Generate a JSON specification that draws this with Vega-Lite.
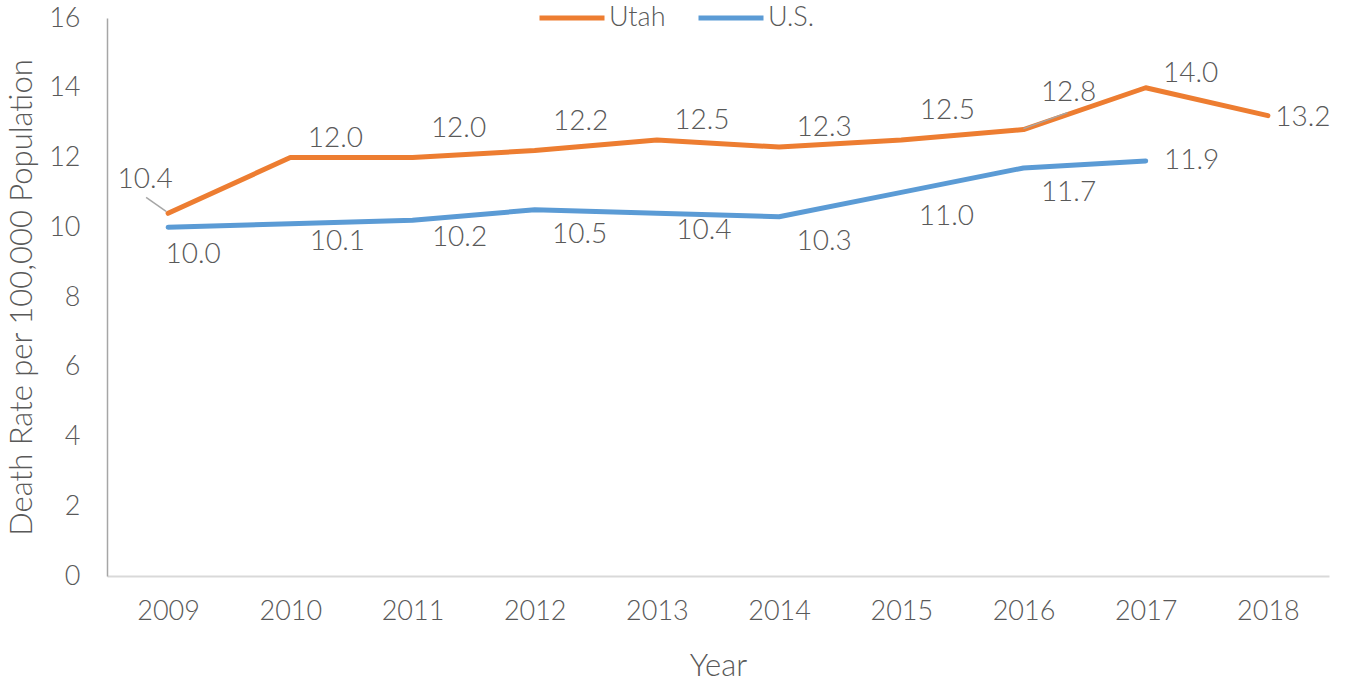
{
  "$schema": "https://vega.github.io/schema/vega-lite/v6.json",
  "autosize": "none",
  "width": 1222,
  "height": 558,
  "padding": {"left": 107, "top": 18, "right": 19, "bottom": 105},
  "background": "white",
  "config": {
    "view": {"stroke": null},
    "font": "Lato",
    "text": {"font": "Lato", "fontWeight": 300, "fontSize": 28, "color": "#595959"},
    "axis": {"labelFont": "Lato", "titleFont": "Lato", "labelFontWeight": 300, "titleFontWeight": 300, "labelColor": "#595959", "titleColor": "#595959", "grid": false, "ticks": false, "tickSize": 0},
    "legend": {"labelFont": "Lato", "labelFontWeight": 300, "labelColor": "#595959"}
  },
  "data": {
    "values": [
      {"year": "2009", "series": "Utah", "rate": 10.4},
      {"year": "2010", "series": "Utah", "rate": 12.0},
      {"year": "2011", "series": "Utah", "rate": 12.0},
      {"year": "2012", "series": "Utah", "rate": 12.2},
      {"year": "2013", "series": "Utah", "rate": 12.5},
      {"year": "2014", "series": "Utah", "rate": 12.3},
      {"year": "2015", "series": "Utah", "rate": 12.5},
      {"year": "2016", "series": "Utah", "rate": 12.8},
      {"year": "2017", "series": "Utah", "rate": 14.0},
      {"year": "2018", "series": "Utah", "rate": 13.2},
      {"year": "2009", "series": "U.S.", "rate": 10.0},
      {"year": "2010", "series": "U.S.", "rate": 10.1},
      {"year": "2011", "series": "U.S.", "rate": 10.2},
      {"year": "2012", "series": "U.S.", "rate": 10.5},
      {"year": "2013", "series": "U.S.", "rate": 10.4},
      {"year": "2014", "series": "U.S.", "rate": 10.3},
      {"year": "2015", "series": "U.S.", "rate": 11.0},
      {"year": "2016", "series": "U.S.", "rate": 11.7},
      {"year": "2017", "series": "U.S.", "rate": 11.9}
    ]
  },
  "encoding": {
    "x": {
      "field": "year", "type": "ordinal",
      "scale": {"type": "point", "padding": 0.5},
      "axis": {"title": "Year", "labelAngle": 0, "labelFontSize": 27, "titleFontSize": 31, "labelPadding": 22, "titlePadding": 27, "domainColor": "#d9d9d9", "domainWidth": 2}
    },
    "y": {
      "field": "rate", "type": "quantitative",
      "scale": {"domain": [0, 16], "nice": false},
      "axis": {"title": "Death Rate per 100,000 Population", "values": [0, 2, 4, 6, 8, 10, 12, 14, 16], "labelFontSize": 27, "titleFontSize": 31, "labelPadding": 27, "titlePadding": 10, "domainColor": "#a6a6a6", "domainWidth": 1.5}
    }
  },
  "layer": [
    {
      "mark": {"type": "line", "strokeWidth": 5, "strokeCap": "round", "strokeJoin": "round"},
      "encoding": {
        "color": {
          "field": "series", "type": "nominal",
          "scale": {"domain": ["Utah", "U.S."], "range": ["#ED7D31", "#5B9BD5"]},
          "legend": {"title": null, "orient": "none", "legendX": 430, "legendY": -35, "direction": "horizontal", "symbolType": "stroke", "symbolSize": 4225, "symbolStrokeWidth": 5, "labelFontSize": 27, "labelOffset": 2, "columnPadding": 22}
        }
      }
    },
    {
      "transform": [{"filter": "datum.series == 'Utah' && datum.year == '2009'"}],
      "mark": {"type": "rule", "color": "#a6a6a6", "strokeWidth": 1.5, "xOffset": -22, "yOffset": -16, "x2Offset": -2, "y2Offset": -2},
      "encoding": {"x2": {"field": "year"}, "y2": {"field": "rate"}}
    },
    {
      "transform": [{"filter": "datum.series == 'Utah' && datum.year == '2016'"}],
      "mark": {"type": "rule", "color": "#a6a6a6", "strokeWidth": 1.5, "xOffset": 0, "yOffset": -1, "x2Offset": 44, "y2Offset": -17},
      "encoding": {"x2": {"field": "year"}, "y2": {"field": "rate"}}
    },
    {
      "transform": [{"filter": "datum.series == 'Utah' && indexof(['2010','2013','2014'], datum.year) >= 0"}],
      "mark": {"type": "text", "dx": 45, "dy": -19},
      "encoding": {"text": {"field": "rate", "format": ".1f"}}
    },
    {
      "transform": [{"filter": "datum.series == 'Utah' && indexof(['2011','2012','2015'], datum.year) >= 0"}],
      "mark": {"type": "text", "dx": 46, "dy": -29},
      "encoding": {"text": {"field": "rate", "format": ".1f"}}
    },
    {
      "transform": [{"filter": "datum.series == 'Utah' && datum.year == '2017'"}],
      "mark": {"type": "text", "dx": 45, "dy": -14},
      "encoding": {"text": {"field": "rate", "format": ".1f"}}
    },
    {
      "transform": [{"filter": "datum.series == 'Utah' && datum.year == '2009'"}],
      "mark": {"type": "text", "dx": -23, "dy": -33},
      "encoding": {"text": {"field": "rate", "format": ".1f"}}
    },
    {
      "transform": [{"filter": "datum.series == 'Utah' && datum.year == '2016'"}],
      "mark": {"type": "text", "dx": 45, "dy": -37},
      "encoding": {"text": {"field": "rate", "format": ".1f"}}
    },
    {
      "transform": [{"filter": "datum.series == 'Utah' && datum.year == '2018'"}],
      "mark": {"type": "text", "dx": 35, "dy": 2},
      "encoding": {"text": {"field": "rate", "format": ".1f"}}
    },
    {
      "transform": [{"filter": "datum.series == 'U.S.' && indexof(['2010','2011','2013'], datum.year) >= 0"}],
      "mark": {"type": "text", "dx": 47, "dy": 18},
      "encoding": {"text": {"field": "rate", "format": ".1f"}}
    },
    {
      "transform": [{"filter": "datum.series == 'U.S.' && indexof(['2012','2014','2015','2016'], datum.year) >= 0"}],
      "mark": {"type": "text", "dx": 45, "dy": 25},
      "encoding": {"text": {"field": "rate", "format": ".1f"}}
    },
    {
      "transform": [{"filter": "datum.series == 'U.S.' && datum.year == '2009'"}],
      "mark": {"type": "text", "dx": 25, "dy": 28},
      "encoding": {"text": {"field": "rate", "format": ".1f"}}
    },
    {
      "transform": [{"filter": "datum.series == 'U.S.' && datum.year == '2017'"}],
      "mark": {"type": "text", "dx": 46, "dy": 0},
      "encoding": {"text": {"field": "rate", "format": ".1f"}}
    }
  ]
}
